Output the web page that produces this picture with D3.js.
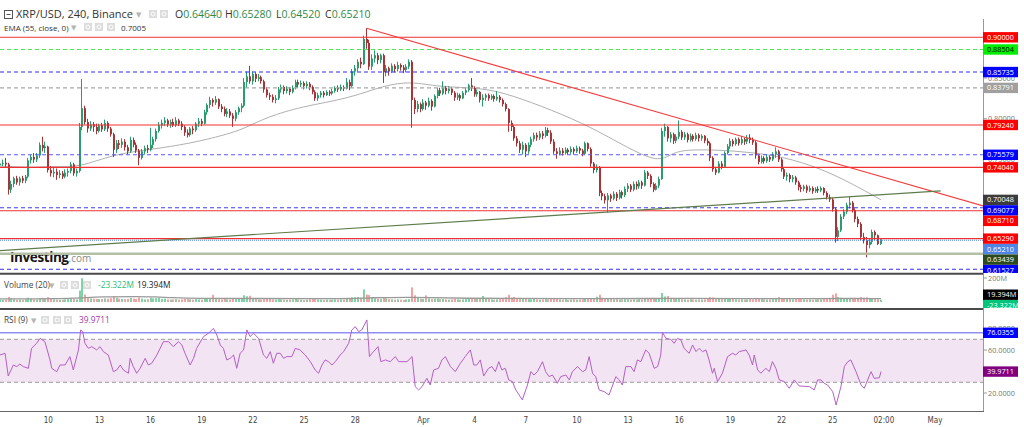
<!DOCTYPE html>
<html>
<head>
<meta charset="utf-8">
<script src="https://cdnjs.cloudflare.com/ajax/libs/d3/7.8.5/d3.min.js"></script>
<style>
  body { margin: 0; background: #fff; }
  text { font-family: "Open Sans", "DejaVu Sans", sans-serif; }
</style>
</head>
<body>
<script>
// XRP/USD 4h candles, Mar 7 04:00 -> Apr 27 20:00
let firstOpen = 0.743;
let closes = [
  .745,.746,.744,.713,.720,.727,.722,.727,.724,.729,
  .749,.753,.750,.755,.768,.764,.766,.737,.733,.735,
  .731,.733,.729,.734,.736,.744,.733,.736,.790,.813,
  .796,.788,.793,.790,.785,.792,.787,.795,.788,.781,
  .762,.770,.768,.772,.765,.760,.774,.768,.761,.752,
  .760,.764,.762,.768,.775,.785,.792,.795,.798,.793,
  .796,.792,.798,.794,.790,.783,.780,.788,.786,.794,
  .797,.794,.808,.817,.823,.820,.824,.815,.812,.806,
  .809,.804,.800,.808,.813,.816,.845,.852,.846,.855,
  .849,.851,.846,.836,.829,.827,.823,.825,.836,.839,
  .834,.837,.833,.838,.845,.842,.844,.840,.843,.839,
  .833,.825,.829,.832,.829,.833,.831,.834,.838,.836,
  .839,.837,.845,.840,.858,.862,.870,.867,.898,.893,
  .864,.874,.878,.872,.878,.857,.862,.858,.865,.861,
  .866,.863,.860,.864,.870,.823,.812,.818,.812,.820,
  .816,.822,.815,.828,.835,.831,.838,.834,.837,.832,
  .826,.829,.825,.832,.835,.841,.838,.830,.833,.823,
  .826,.829,.825,.828,.824,.827,.823,.818,.812,.795,
  .790,.776,.770,.762,.768,.760,.768,.775,.780,.777,
  .782,.779,.786,.783,.772,.760,.757,.761,.758,.762,
  .759,.763,.760,.764,.761,.757,.770,.763,.745,.737,
  .741,.709,.705,.700,.706,.702,.708,.703,.710,.706,
  .714,.718,.713,.720,.717,.722,.718,.734,.730,.720,
  .713,.718,.726,.785,.790,.776,.781,.773,.778,.784,
  .777,.781,.774,.779,.775,.780,.776,.779,.773,.770,
  .752,.738,.734,.745,.741,.758,.766,.773,.769,.775,
  .770,.775,.772,.777,.774,.771,.755,.747,.752,.748,
  .753,.750,.756,.760,.750,.738,.729,.731,.726,.728,
  .722,.716,.714,.717,.712,.715,.711,.714,.712,.715,
  .709,.704,.701,.689,.655,.663,.680,.686,.694,.697,
  .688,.677,.671,.655,.651,.645,.649,.661,.657,.6464,.6521
];
let highs = [
  .748,.750,.752,.746,.724,.729,.730,.729,.730,.731,
  .752,.756,.758,.758,.771,.778,.772,.767,.742,.740,
  .739,.737,.736,.738,.739,.747,.746,.739,.795,.849,
  .816,.800,.797,.796,.794,.794,.795,.799,.797,.790,
  .783,.774,.774,.776,.775,.768,.778,.777,.771,.763,
  .763,.767,.768,.789,.778,.788,.796,.799,.802,.800,
  .799,.800,.802,.800,.797,.792,.787,.790,.791,.796,
  .801,.800,.811,.819,.827,.825,.828,.825,.818,.815,
  .813,.812,.807,.811,.815,.819,.850,.858,.865,.858,
  .857,.855,.853,.848,.839,.832,.830,.829,.839,.842,
  .841,.840,.839,.841,.848,.848,.847,.846,.846,.845,
  .841,.835,.832,.834,.834,.835,.835,.837,.840,.841,
  .842,.841,.850,.848,.861,.866,.873,.875,.902,.911,
  .897,.879,.884,.881,.880,.880,.866,.864,.868,.867,
  .870,.868,.866,.867,.873,.872,.826,.822,.820,.824,
  .822,.826,.824,.830,.838,.838,.846,.840,.840,.839,
  .834,.832,.831,.834,.838,.843,.850,.840,.836,.834,
  .830,.831,.831,.830,.830,.834,.829,.825,.820,.813,
  .798,.792,.779,.773,.772,.770,.771,.778,.783,.783,
  .785,.785,.790,.789,.786,.775,.764,.765,.764,.765,
  .764,.766,.765,.767,.766,.763,.772,.771,.765,.747,
  .744,.742,.712,.708,.709,.708,.711,.710,.713,.712,
  .717,.721,.720,.723,.723,.725,.724,.737,.736,.732,
  .722,.721,.729,.789,.794,.791,.784,.783,.781,.798,
  .786,.784,.783,.782,.781,.783,.782,.781,.780,.776,
  .772,.754,.741,.748,.748,.760,.769,.776,.775,.777,
  .777,.779,.777,.780,.781,.777,.773,.757,.755,.754,
  .756,.755,.759,.765,.762,.752,.740,.734,.733,.731,
  .730,.724,.719,.719,.719,.718,.717,.716,.717,.717,
  .716,.711,.707,.703,.691,.667,.683,.689,.697,.704,
  .699,.690,.680,.673,.660,.655,.653,.664,.663,.658,.6528
];
let lows = [
  .740,.742,.741,.707,.709,.716,.719,.718,.721,.721,
  .727,.745,.746,.747,.752,.760,.758,.734,.729,.728,
  .725,.727,.726,.727,.729,.733,.730,.729,.734,.786,
  .793,.783,.785,.784,.781,.783,.784,.785,.784,.778,
  .753,.758,.763,.764,.761,.756,.758,.765,.758,.743,
  .750,.756,.758,.760,.764,.772,.783,.788,.791,.790,
  .789,.790,.790,.791,.786,.779,.777,.778,.781,.784,
  .790,.791,.793,.805,.813,.815,.817,.812,.808,.803,
  .802,.801,.790,.797,.805,.808,.814,.838,.843,.842,
  .845,.846,.843,.832,.826,.823,.820,.819,.823,.832,
  .830,.831,.829,.831,.836,.838,.839,.836,.837,.835,
  .830,.822,.822,.826,.826,.828,.828,.829,.832,.833,
  .834,.834,.836,.835,.838,.853,.858,.862,.866,.886,
  .860,.860,.869,.867,.868,.844,.852,.853,.856,.857,
  .858,.859,.856,.857,.861,.789,.806,.808,.808,.810,
  .811,.814,.810,.814,.825,.828,.829,.830,.831,.829,
  .822,.823,.822,.824,.829,.833,.834,.827,.827,.820,
  .815,.822,.822,.823,.821,.822,.820,.815,.809,.784,
  .785,.773,.766,.758,.756,.753,.757,.765,.772,.773,
  .774,.775,.777,.779,.769,.757,.751,.755,.755,.756,
  .756,.757,.756,.758,.757,.754,.756,.760,.741,.733,
  .734,.705,.700,.696,.685,.698,.700,.699,.701,.702,
  .704,.710,.710,.711,.713,.714,.714,.717,.726,.716,
  .710,.712,.715,.725,.778,.772,.771,.769,.770,.775,
  .774,.774,.771,.772,.772,.773,.772,.773,.770,.767,
  .748,.735,.731,.733,.738,.740,.756,.763,.766,.767,
  .767,.768,.768,.769,.770,.768,.751,.744,.745,.745,
  .746,.747,.748,.752,.747,.735,.726,.724,.722,.722,
  .719,.712,.710,.711,.709,.710,.708,.709,.709,.710,
  .706,.701,.698,.686,.648,.650,.661,.677,.683,.690,
  .685,.673,.667,.651,.647,.630,.641,.646,.651,.645,.6452
];
// volume in millions
let volumes = [
  22,18,20,42,30,24,18,20,17,22,
  36,28,22,20,32,30,24,40,28,22,
  20,18,19,22,24,30,26,22,95,198,
  62,40,30,28,26,24,25,30,28,32,
  48,36,28,26,24,26,34,28,26,38,
  28,22,24,36,30,32,34,26,28,22,
  20,22,24,20,22,28,26,22,20,24,
  22,20,30,34,32,60,26,24,22,28,
  22,20,28,24,26,30,56,48,52,34,
  26,22,20,24,28,24,22,20,24,22,
  20,18,20,22,26,22,20,18,20,22,
  24,30,22,20,18,20,18,20,22,20,
  22,20,28,26,38,40,42,36,105,62,
  58,36,30,26,24,40,30,24,22,20,
  22,20,18,22,24,122,56,34,28,26,
  55,30,26,28,30,24,26,22,20,22,
  26,22,20,22,24,28,30,26,24,28,
  50,30,34,22,20,22,24,26,40,60,
  36,40,32,30,28,26,24,22,26,22,
  20,22,24,22,26,30,26,22,20,22,
  18,20,22,18,20,22,26,24,34,30,
  44,60,36,32,30,26,22,24,20,22,
  24,22,20,22,20,24,22,30,26,28,
  32,26,30,75,46,50,34,28,26,30,
  24,22,20,24,22,20,22,20,22,28,
  40,38,30,26,24,32,28,26,24,22,
  20,22,20,22,24,22,34,28,24,22,
  20,22,24,28,40,34,30,26,24,22,
  26,28,24,22,20,22,20,22,24,22,
  26,30,34,60,72,42,36,30,28,34,
  30,34,28,40,36,38,30,32,24,22,19.394
];
// [bar index, value]
let volumeAvg = [[0,26],[20,26],[29,34],[35,44],[48,46],[55,44],[60,36],[70,28],[90,30],[110,27],[125,28],[130,36],[145,40],[150,38],[165,30],[180,30],[200,28],[233,29],[240,32],[260,28],[290,27],[300,30],[310,28]];
let ema = [[0,.742],[12,.740],[19,.742],[28,.740],[40,.757],[57,.764],[70,.772],[82,.783],[87,.790],[94,.802],[106,.815],[123,.825],[135,.841],[145,.846],[154,.839],[170,.838],[180,.829],[194,.811],[208,.790],[224,.758],[232,.748],[236,.756],[240,.762],[252,.762],[264,.759],[276,.753],[288,.740],[299,.722],[310,.7005]];
let rsi = [
  [0,55.4],[1.8,57],[2.9,35.9],[4.7,46.1],[5.9,44.6],[7,47],[8.2,44.6],[10,43],[11.1,61.6],[12.9,66.3],
  [14.1,70.9],[15.8,67.8],[17.6,50.8],[18.2,43],[20,39.9],[21.1,46.1],[22.9,46.1],[24.6,53.9],[25.8,41.5],[27.6,60.1],
  [28.4,78.7],[29.1,77.1],[29.9,66.3],[31.1,61.6],[32.3,63.2],[34,60.1],[35.2,63.2],[36.4,58.5],[38.1,55.4],[39.9,39.9],
  [41.1,41.5],[42.3,46.1],[43.4,41.5],[45.2,38.4],[45.8,52.3],[46.9,44.6],[48.1,38.4],[49.3,43],[51.1,52.3],[52.2,46.1],
  [53.4,47.7],[55.2,55.4],[57.5,67.8],[59.3,67.8],[61,63.2],[62.8,67.8],[64,64.7],[65.1,57],[66.9,46.1],[68.1,52.3],
  [69.2,61.6],[71.6,72.5],[73.4,75.6],[75.1,80.2],[76.3,74],[77.5,64.7],[78.6,61.6],[79.8,50.8],[81,52.3],[82.2,55.4],
  [83.3,43],[84.5,57],[85.7,60.1],[86.9,78.7],[88,72.5],[89.2,75.6],[91,70.9],[92.7,55.4],[93.9,52.3],[95.1,58.5],
  [96.2,47.7],[97.4,57],[98.6,57],[99.8,52.3],[100.9,53.9],[102.7,53.9],[103.9,61.6],[105.6,60.1],[107.4,55.4],[109.2,49.2],
  [110.9,41.5],[112.1,38.4],[113.3,46.1],[114.4,50.8],[115.6,49.2],[116.8,46.1],[118,49.2],[119.7,55.4],[120.9,58.5],[122.7,66.3],
  [123.8,78.7],[125,81.8],[126.2,77.1],[127.3,78.7],[129.1,88],[130,53.9],[130.9,57],[132,60.1],[133,63.2],[134,49.2],
  [135.6,50.8],[137.3,49.2],[139.1,53.9],[140.3,49.2],[143.2,49.2],[145,53.9],[146.1,26],[147.3,22.9],[148.5,26],[150.2,33.7],
  [151.4,27.5],[152.6,41.5],[154.3,43],[155.5,50.8],[156.7,53.9],[158.5,44.6],[160.2,39.9],[162,47.7],[163.7,53.9],[165.5,60.1],
  [166.7,46.1],[167.8,46.1],[169,50.8],[170.2,35.9],[171.9,43],[173.1,44.6],[174.3,39.9],[175.5,49.2],[176.6,41.5],[177.8,43],
  [179,32.2],[180.3,30.6],[181.5,22.9],[183.8,13.6],[185.6,27.5],[186.8,39.9],[187.9,36.8],[189.1,39.9],[190.9,49.2],[192,39.9],
  [193.2,35.3],[194.4,36.8],[196.1,29.1],[197.3,35.3],[199.1,36.8],[200.3,32.2],[201.4,39.9],[203.2,44.6],[205,39.9],[206.1,41.5],
  [207.3,53.9],[208.5,38.4],[209.6,35.3],[210.8,22.9],[212.6,21.3],[214.3,18.2],[216.7,35.3],[217.9,32.2],[219,27.5],[220.2,44.6],
  [222,44.6],[223.1,39.9],[224.3,50.8],[225.5,49.2],[227.2,60.1],[228.4,57],[230.2,43],[231.4,44.6],[232.5,55.4],[233.1,76.5],
  [234.3,70.9],[236,70],[237.2,66.3],[238.4,70.9],[239.6,69.4],[240.7,61.6],[242.5,57],[243.7,64.7],[244.9,58.5],[246,61.6],
  [247.2,58.5],[248.4,60.1],[249.5,50.8],[250.7,38.4],[251.3,43],[252.5,30.6],[254.2,38.4],[256,53.9],[257.8,57],[258.9,55.4],
  [260.1,58.5],[262.5,60.1],[263.6,55.4],[264.8,46.1],[265.4,55.4],[266.6,41.5],[267.7,38.4],[269.5,43],[270.7,39.9],[271.8,49.2],
  [273,43],[274.2,32.2],[276,30.6],[277.7,24.4],[279.5,32.2],[281.2,26.6],[284.8,26],[286.5,22.9],[287.7,32.2],[288.9,32.2],
  [290,29.1],[291.2,27.5],[293,21.3],[294.2,8.9],[295.9,26],[297.1,44.6],[298.3,49.2],[299.4,50.8],[301.2,39.9],[303,27.5],
  [304.1,24.4],[306.5,39.9],[307.6,33.7],[309.4,34.2],[310,39.9711]
];

let levels = [0.9, 0.88504, 0.85735, 0.83791, 0.7924, 0.75579, 0.7404, 0.69077, 0.6871, 0.6529, 0.63439, 0.61527];
let downTrend = [[129, 0.911], [346, 0.693]];
let upTrend = [[0, 0.6382], [331, 0.7114]];
let lastPrice = 0.6521;
let emaLast = 0.70048;
let rsiLevel = 76.0355;
let rsiLast = 39.9711;
// only the scale ticks that peek out from behind the tags
let priceTicks = [0.75, 0.8, 0.85];
let rsiTicks = [20, 60, 80];
let tickDates = ["2022-03-10","2022-03-13","2022-03-16","2022-03-19","2022-03-22","2022-03-25","2022-03-28",
  "2022-04-01","2022-04-04","2022-04-07","2022-04-10","2022-04-13","2022-04-16","2022-04-19","2022-04-22",
  "2022-04-25","2022-04-28","2022-05-01"];
let tickLabels = ["10","13","16","19","22","25","28","Apr","4","7","10","13","16","19","22","25","02:00","May"];

let width = 1024;
let height = 427;
let right = 983;
let start = Date.UTC(2022, 2, 7, 4);
let barTime = (i) => new Date(start + i * 4 * 3600 * 1000);

let x = d3.scaleUtc()
  .domain([new Date(Date.UTC(2022, 2, 10)), new Date(Date.UTC(2022, 4, 1))])
  .range([48.3, 935]);
let y = d3.scaleLinear().domain([0.61527, 0.9]).range([269.3, 37.3]);
let yVol = d3.scaleLinear().domain([0, 200]).range([302, 278]);
let yRsi = d3.scaleLinear().domain([30, 70]).range([382.3, 339.3]);

let candles = closes.map((c, i) => ({
  t: barTime(i),
  o: i ? closes[i - 1] : firstOpen,
  h: highs[i],
  l: lows[i],
  c: c,
  v: volumes[i],
}));

let bull = "#2a9d6f";
let bear = "#a93438";

let svg = d3.select("body").append("svg")
  .attr("width", width)
  .attr("height", height)
  .style("display", "block");

let defs = svg.append("defs");
defs.append("clipPath").attr("id", "mainClip")
  .append("rect").attr("x", 0).attr("y", 19).attr("width", right).attr("height", 254);
defs.append("clipPath").attr("id", "volClip")
  .append("rect").attr("x", 0).attr("y", 275).attr("width", width).attr("height", 33);
defs.append("clipPath").attr("id", "rsiClip")
  .append("rect").attr("x", 0).attr("y", 310).attr("width", width).attr("height", 101);
defs.append("clipPath").attr("id", "mainLabelClip")
  .append("rect").attr("x", 0).attr("y", 19).attr("width", width).attr("height", 254);

// ---------- main pane ----------
let main = svg.append("g").attr("clip-path", "url(#mainClip)");

// watermark
main.append("text")
  .attr("x", 10).attr("y", 262)
  .attr("font-size", 13.5).attr("font-weight", 700).attr("fill", "#151515")
  .attr("letter-spacing", -0.4)
  .text("Investing")
  .append("tspan").attr("font-size", 10).attr("font-weight", 400).attr("fill", "#8a8a8a")
  .attr("letter-spacing", 0).text(".com");

main.append("path")
  .datum(ema)
  .attr("fill", "none").attr("stroke", "#b0b0b0").attr("stroke-width", 1)
  .attr("d", d3.line().curve(d3.curveBasis).x((d) => x(barTime(d[0]))).y((d) => y(d[1])));

let candle = main.selectAll("g.candle").data(candles).enter().append("g");
candle.append("line")
  .attr("x1", (d) => Math.round(x(d.t)) - 0.5)
  .attr("x2", (d) => Math.round(x(d.t)) - 0.5)
  .attr("y1", (d) => y(d.h))
  .attr("y2", (d) => y(d.l))
  .attr("stroke", (d) => (d.c >= d.o ? bull : bear))
  .attr("stroke-width", 1);
candle.append("rect")
  .attr("x", (d) => Math.round(x(d.t)) - 1)
  .attr("width", 2)
  .attr("y", (d) => y(Math.max(d.o, d.c)))
  .attr("height", (d) => Math.max(1, Math.abs(y(d.o) - y(d.c))))
  .attr("fill", (d) => (d.c >= d.o ? bull : bear));

let levelLook = [
  ["#f23030", null, 1.1], ["#4de84d", "4,3", 1.1], ["#2f2ff2", "4,3", 1.1], ["#a8a8a8", "4,3", 1.1],
  ["#f23030", null, 1.1], ["#5a5af5", "4,3", 1.1], ["#f23030", null, 1.1], ["#3d3df2", "4,3", 1.1],
  ["#f23030", null, 1.1], ["#f23030", null, 1.1], ["#b4c0a6", null, 2.5], ["#2f2ff2", "4,3", 1.1],
];
main.selectAll("line.level").data(levels).enter().append("line")
  .attr("x1", 0).attr("x2", right)
  .attr("y1", (d) => y(d))
  .attr("y2", (d) => y(d))
  .attr("stroke", (d, i) => levelLook[i][0])
  .attr("stroke-dasharray", (d, i) => levelLook[i][1])
  .attr("stroke-width", (d, i) => levelLook[i][2]);

main.append("line")
  .attr("x1", 0).attr("x2", right)
  .attr("y1", y(lastPrice) + 1).attr("y2", y(lastPrice) + 1)
  .attr("stroke", "#5b8de8").attr("stroke-dasharray", "1,1");

let trendLine = d3.line().x((d) => x(barTime(d[0]))).y((d) => y(d[1]));
main.append("path").datum(downTrend)
  .attr("fill", "none").attr("stroke", "#f03c3c").attr("stroke-width", 1.1)
  .attr("d", trendLine);
main.append("path").datum(upTrend)
  .attr("fill", "none").attr("stroke", "#5f7d4c").attr("stroke-width", 1.2)
  .attr("d", trendLine);

// ---------- volume pane ----------
let vol = svg.append("g").attr("clip-path", "url(#volClip)");
vol.selectAll("rect").data(candles).enter().append("rect")
  .attr("x", (d) => Math.round(x(d.t)) - 1)
  .attr("width", 2)
  .attr("y", (d) => yVol(d.v))
  .attr("height", (d) => yVol(0) - yVol(d.v))
  .attr("fill", (d) => (d.c >= d.o ? "#7fd3a6" : "#f2a3a3"));
vol.append("path").datum(volumeAvg)
  .attr("fill", "none").attr("stroke", "#9a9a9a").attr("stroke-width", 1.3)
  .attr("d", d3.line().curve(d3.curveBasis).x((d) => x(barTime(d[0]))).y((d) => yVol(d[1])));

// ---------- rsi pane ----------
let rsiG = svg.append("g").attr("clip-path", "url(#rsiClip)");
rsiG.append("rect")
  .attr("x", 0).attr("width", right)
  .attr("y", yRsi(70)).attr("height", yRsi(30) - yRsi(70))
  .attr("fill", "#f2e4f2");
[70, 30].forEach((v) => {
  rsiG.append("line")
    .attr("x1", 0).attr("x2", right)
    .attr("y1", yRsi(v)).attr("y2", yRsi(v))
    .attr("stroke", "#9a9a9a").attr("stroke-dasharray", "4,3");
});
rsiG.append("line")
  .attr("x1", 0).attr("x2", right)
  .attr("y1", yRsi(rsiLevel)).attr("y2", yRsi(rsiLevel))
  .attr("stroke", "#8f8ff5").attr("stroke-width", 1.5);
rsiG.append("path").datum(rsi)
  .attr("fill", "none").attr("stroke", "#b460c6").attr("stroke-width", 1)
  .attr("d", d3.line().x((d) => x(barTime(d[0]))).y((d) => yRsi(d[1])));

// ---------- frames ----------
[273.8, 309].forEach((yy) => {
  svg.append("line")
    .attr("x1", 0).attr("x2", right + 1)
    .attr("y1", yy).attr("y2", yy)
    .attr("stroke", "#4a4a4a").attr("stroke-width", 2);
});
svg.append("line")
  .attr("x1", right + 0.5).attr("x2", right + 0.5)
  .attr("y1", 19).attr("y2", 412)
  .attr("stroke", "#999");
svg.append("line")
  .attr("x1", 0).attr("x2", right + 1)
  .attr("y1", 411.5).attr("y2", 411.5)
  .attr("stroke", "#666");

svg.append("g").selectAll("text").data(tickDates).enter().append("text")
  .attr("x", (d) => x(new Date(d + "T00:00:00Z")))
  .attr("y", 423)
  .attr("text-anchor", "middle")
  .attr("font-size", 8)
  .attr("fill", "#444")
  .style("font-family", "'DejaVu Sans Condensed', 'Liberation Sans Narrow', sans-serif")
  .text((d, i) => tickLabels[i]);

// ---------- right axis labels ----------
let axisText = (g, yy, txt) => {
  g.append("line").attr("x1", right).attr("x2", right + 4)
    .attr("y1", yy).attr("y2", yy).attr("stroke", "#999");
  g.append("text").attr("x", right + 5).attr("y", yy + 2.6)
    .attr("font-size", 7.3).attr("fill", "#777").text(txt);
};
let tag = (g, yy, txt, bg, fg) => {
  g.append("rect").attr("x", right).attr("y", yy - 5.2)
    .attr("width", 35).attr("height", 10.4).attr("fill", bg);
  g.append("text").attr("x", right + 4).attr("y", yy + 2.6)
    .attr("font-size", 7.3).attr("fill", fg).text(txt);
};

let mainAxis = svg.append("g").attr("clip-path", "url(#mainLabelClip)");
priceTicks.forEach((p) => axisText(mainAxis, y(p), p.toFixed(5)));

let levelTag = ["#ff0000", "#00ee00", "#0000ff", "#a0a0a0", "#ff0000", "#0000ff", "#ff0000",
  "#0000ff", "#ff0000", "#ff0000", "#2c4a20", "#0000ff"];
let tags = levels.map((p, i) => ({ p: p, bg: levelTag[i], fg: i === 1 ? "#000" : "#fff" }));
tags.push({ p: emaLast, bg: "#3c3c3c", fg: "#fff" });
tags.push({ p: lastPrice, bg: "#4f86e6", fg: "#fff" });
tags.sort((a, b) => y(a.p) - y(b.p));
let prevY = -Infinity;
tags.forEach((d) => {
  d.yy = Math.max(y(d.p), prevY + 10.5);
  prevY = d.yy;
});
tags.forEach((d) => tag(mainAxis, d.yy, d.p.toFixed(5), d.bg, d.fg));

let volAxis = svg.append("g").attr("clip-path", "url(#volClip)");
axisText(volAxis, yVol(200), "200M");
tag(volAxis, 294.7, "19.394M", "#000", "#fff");
tag(volAxis, 305.2, "-23.322M", "#00c57a", "#fff");

let rsiAxis = svg.append("g").attr("clip-path", "url(#rsiClip)");
rsiTicks.forEach((v) => axisText(rsiAxis, yRsi(v), v.toFixed(4)));
tag(rsiAxis, yRsi(rsiLevel), rsiLevel.toFixed(4), "#0000ff", "#fff");
tag(rsiAxis, yRsi(rsiLast), rsiLast.toFixed(4), "#800080", "#fff");

// ---------- legends ----------
let icons = (xs, top) => {
  xs.forEach((xx) => {
    svg.append("rect").attr("x", xx).attr("y", top).attr("width", 8).attr("height", 8)
      .attr("fill", "#dcdcdc");
    svg.append("circle").attr("cx", xx + 4).attr("cy", top + 4).attr("r", 2)
      .attr("fill", "none").attr("stroke", "#fff").attr("stroke-width", 1);
  });
};
let caret = (xx, yy) => {
  svg.append("text").attr("x", xx).attr("y", yy).attr("font-size", 7).attr("fill", "#b5b5b5").text("▼");
};

svg.append("rect").attr("x", 4.5).attr("y", 10.5).attr("width", 8).attr("height", 8)
  .attr("fill", "none").attr("stroke", "#555");
svg.append("line").attr("x1", 6.5).attr("x2", 10.5).attr("y1", 14.5).attr("y2", 14.5).attr("stroke", "#555");
svg.append("text").attr("x", 16).attr("y", 18).attr("font-size", 11).attr("fill", "#333")
  .text("XRP/USD, 240, Binance");
caret(136, 17);
icons([149, 160], 10);
let ohlc = [["O", "0.64640", 175], ["H", "0.65280", 225], ["L", "0.64520", 276], ["C", "0.65210", 325]];
ohlc.forEach((d) => {
  let t = svg.append("text").attr("x", d[2]).attr("y", 18).attr("font-size", 10.5).attr("fill", "#333");
  t.append("tspan").text(d[0]);
  t.append("tspan").attr("fill", "#2f8a4a").text(d[1]);
});

svg.append("text").attr("x", 4).attr("y", 30.5).attr("font-size", 8).attr("fill", "#333")
  .text("EMA (55, close, 0)");
caret(71, 30);
icons([84, 95, 107], 23);
svg.append("text").attr("x", 121).attr("y", 30.5).attr("font-size", 8).attr("fill", "#333").text("0.7005");

svg.append("text").attr("x", 4).attr("y", 288).attr("font-size", 8.3).attr("fill", "#444").text("Volume (20)");
caret(49, 288);
icons([60, 71, 83], 281);
svg.append("text").attr("x", 98).attr("y", 288).attr("font-size", 8.3).attr("fill", "#27c07e").text("-23.322M");
svg.append("text").attr("x", 137).attr("y", 288).attr("font-size", 8.3).attr("fill", "#222").text("19.394M");

svg.append("text").attr("x", 4).attr("y", 323).attr("font-size", 8.3).attr("fill", "#444").text("RSI (9)");
caret(31, 323);
icons([41, 53, 64], 316);
svg.append("text").attr("x", 79).attr("y", 323).attr("font-size", 8.3).attr("fill", "#a23aa8").text("39.9711");
</script>
</body>
</html>
